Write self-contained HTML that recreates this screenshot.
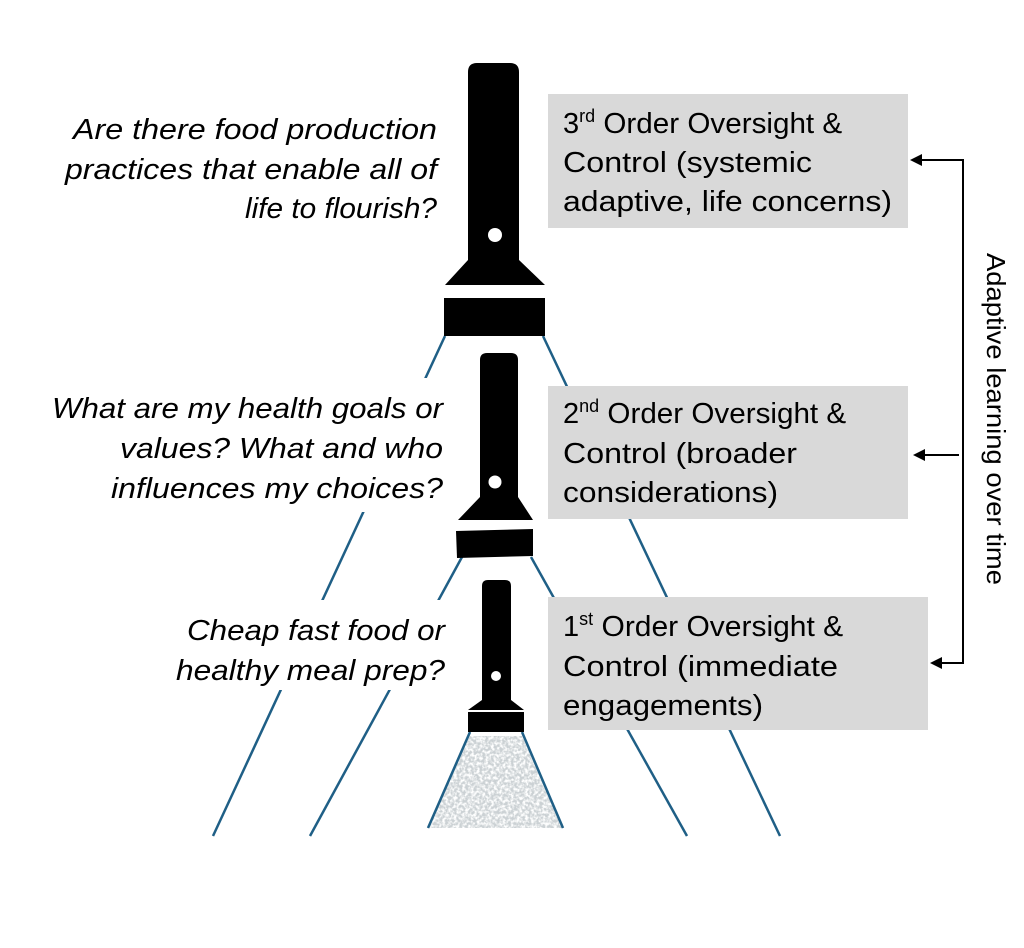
<!DOCTYPE html>
<html><head><meta charset="utf-8"><style>
html,body{margin:0;padding:0;background:#fff;}
svg{display:block;}
text{font-family:"Liberation Sans",Arial,sans-serif;fill:#000;}
.q{font-style:italic;font-size:29px;}
.b{font-size:29px;}
</style></head><body>
<svg width="1024" height="948" viewBox="0 0 1024 948" xmlns="http://www.w3.org/2000/svg">
<defs>
<filter id="noise" x="0" y="0" width="100%" height="100%">
<feTurbulence type="fractalNoise" baseFrequency="0.35" numOctaves="2" seed="3"/>
<feColorMatrix type="matrix" values="0 0 0 0 0.6  0 0 0 0 0.64  0 0 0 0 0.66  0 0 0 -3 2.1"/>
<feComposite in2="SourceGraphic" operator="in"/>
</filter>
</defs>
<polygon points="470,736 522,736 563,828 428,828" fill="#b8bdc0" filter="url(#noise)"/>
<g stroke="#1f5f86" stroke-width="2.5" fill="none">
<line x1="445" y1="336" x2="213" y2="836"/>
<line x1="543" y1="336" x2="780" y2="836"/>
<line x1="462" y1="557" x2="310" y2="836"/>
<line x1="531" y1="557" x2="687" y2="836"/>
<line x1="470" y1="732" x2="428" y2="828"/>
<line x1="522" y1="732" x2="563" y2="828"/>
</g>
<rect x="40" y="100" width="405" height="130" fill="#fff"/>
<rect x="40" y="378" width="410" height="134" fill="#fff"/>
<rect x="160" y="600" width="292" height="90" fill="#fff"/>
<rect x="548" y="94" width="360" height="134" fill="#d9d9d9"/>
<rect x="548" y="386" width="360" height="133" fill="#d9d9d9"/>
<rect x="548" y="597" width="380" height="133" fill="#d9d9d9"/>
<path d="M468,72 Q468,63 477,63 L510,63 Q519,63 519,72 L519,260 L545,285 L445,285 L468,260 Z" fill="#000"/>
<circle cx="495" cy="235" r="7" fill="#fff"/>
<rect x="444" y="298" width="101" height="38" fill="#000"/>
<path d="M480,360 Q480,353 487,353 L511,353 Q518,353 518,360 L518,497 L533,520 L458,520 L480,497 Z" fill="#000"/>
<circle cx="495" cy="482" r="6.5" fill="#fff"/>
<polygon points="456,531 533,529 533,556 457,558" fill="#000"/>
<path d="M482,586 Q482,580 488,580 L505,580 Q511,580 511,586 L511,700 L524,710 L468,710 L482,700 Z" fill="#000"/>
<circle cx="496" cy="676" r="5" fill="#fff"/>
<rect x="468" y="712" width="56" height="20" fill="#000"/>
<g class="q" lengthAdjust="spacingAndGlyphs">
<text x="73" y="139" textLength="364" lengthAdjust="spacingAndGlyphs">Are there food production</text>
<text x="65" y="179" textLength="372" lengthAdjust="spacingAndGlyphs">practices that enable all of</text>
<text x="245" y="218" textLength="192" lengthAdjust="spacingAndGlyphs">life to flourish?</text>
<text x="52" y="418" textLength="391" lengthAdjust="spacingAndGlyphs">What are my health goals or</text>
<text x="120" y="458" textLength="323" lengthAdjust="spacingAndGlyphs">values? What and who</text>
<text x="111" y="498" textLength="332" lengthAdjust="spacingAndGlyphs">influences my choices?</text>
<text x="187" y="640" textLength="258" lengthAdjust="spacingAndGlyphs">Cheap fast food or</text>
<text x="176" y="680" textLength="269" lengthAdjust="spacingAndGlyphs">healthy meal prep?</text>
</g>
<g class="b">
<text x="563" y="133">3<tspan font-size="18" dy="-11">rd</tspan><tspan dy="11" textLength="247" lengthAdjust="spacingAndGlyphs"> Order Oversight &amp;</tspan></text>
<text x="563" y="172" textLength="249" lengthAdjust="spacingAndGlyphs">Control (systemic</text>
<text x="563" y="211" textLength="329" lengthAdjust="spacingAndGlyphs">adaptive, life concerns)</text>
<text x="563" y="423">2<tspan font-size="18" dy="-11">nd</tspan><tspan dy="11" textLength="247" lengthAdjust="spacingAndGlyphs"> Order Oversight &amp;</tspan></text>
<text x="563" y="463" textLength="234" lengthAdjust="spacingAndGlyphs">Control (broader</text>
<text x="563" y="502" textLength="215" lengthAdjust="spacingAndGlyphs">considerations)</text>
<text x="563" y="636">1<tspan font-size="18" dy="-11">st</tspan><tspan dy="11" textLength="250" lengthAdjust="spacingAndGlyphs"> Order Oversight &amp;</tspan></text>
<text x="563" y="676" textLength="275" lengthAdjust="spacingAndGlyphs">Control (immediate</text>
<text x="563" y="715" textLength="200" lengthAdjust="spacingAndGlyphs">engagements)</text>
</g>
<g stroke="#000" stroke-width="2" fill="none">
<polyline points="920,160 963,160 963,663 940,663"/>
<line x1="959" y1="455" x2="924" y2="455"/>
</g>
<g fill="#000">
<polygon points="910,160 922,154 922,166"/>
<polygon points="913,455 925,449 925,461"/>
<polygon points="930,663 942,657 942,669"/>
</g>
<text transform="translate(987,419) rotate(90)" text-anchor="middle" font-size="26" textLength="332" lengthAdjust="spacingAndGlyphs">Adaptive learning over time</text>
</svg>
</body></html>
